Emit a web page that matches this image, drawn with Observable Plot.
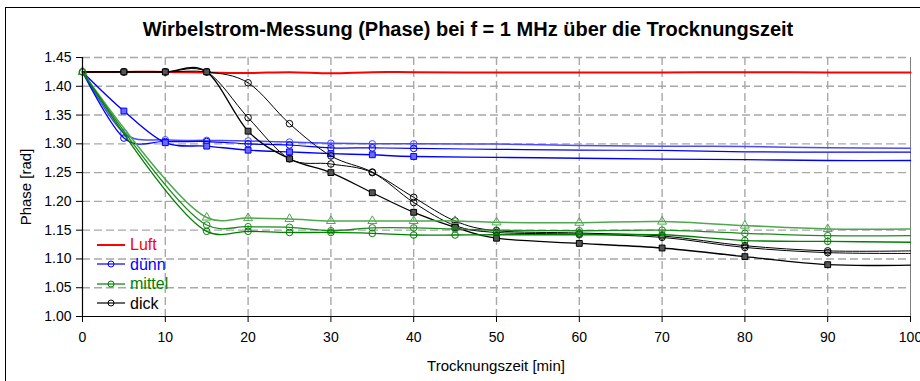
<!DOCTYPE html>
<html><head><meta charset="utf-8">
<script src="https://cdn.jsdelivr.net/npm/d3@7"></script>
<script src="https://cdn.jsdelivr.net/npm/@observablehq/plot@0.6"></script>
<style>
body{margin:0;background:#fff;font-family:"Liberation Sans",Arial,sans-serif;}
#wrap{position:relative;width:920px;height:381px;overflow:hidden;background:#fff;}
#frame{position:absolute;left:5px;top:7px;width:1000px;height:1000px;border:1px solid #000;}
#title{position:absolute;top:18px;left:0;width:936px;text-align:center;font-weight:bold;font-size:20px;line-height:22px;}
#xlab{position:absolute;top:357px;left:0;width:992px;text-align:center;font-size:15px;line-height:18px;}
#ylab{position:absolute;left:26px;top:187px;font-size:15px;line-height:18px;transform:translate(-50%,-50%) rotate(-90deg);white-space:nowrap;}
#chart{position:absolute;left:0;top:0;}
#legend{position:absolute;left:97px;top:235px;font-size:16px;}
.lr{height:19.5px;line-height:19.5px;display:flex;align-items:center;}
.lr svg{margin-right:5px;}
</style>
</head><body>
<div id="wrap">
  <div id="frame"></div>
  <div id="chart"></div>
  <div id="title">Wirbelstrom-Messung (Phase) bei f = 1 MHz über die Trocknungszeit</div>
  <div id="xlab">Trocknungszeit [min]</div>
  <div id="ylab">Phase [rad]</div>
  <div id="legend"></div>
</div>
<script>
// ---- data ----
const xTicks = [0,10,20,30,40,50,60,70,80,90,100];
const yTicks = [1.00,1.05,1.10,1.15,1.20,1.25,1.30,1.35,1.40,1.45];

const tLuft  = [0,5,10,15,20,25,30,35,40,50,60,70,80,90,100];
const luft   = [1.425,1.425,1.425,1.424,1.423,1.4245,1.4225,1.4245,1.4245,1.424,1.424,1.424,1.4245,1.424,1.424];

const tDuenn = [0,5,10,15,20,25,30,35,40,50,60,70,80,90,100];
const mDuenn = [5,10,15,20,25,30,35,40];
const duenn1 = [1.425,1.319,1.307,1.306,1.305,1.303,1.301,1.300,1.300,1.2995,1.297,1.2958,1.2955,1.293,1.2925];
const duenn2 = [1.425,1.310,1.304,1.304,1.300,1.298,1.293,1.293,1.292,1.2905,1.289,1.2885,1.286,1.2856,1.2856];
const duenn3 = [1.425,1.357,1.302,1.296,1.289,1.286,1.283,1.281,1.278,1.2765,1.275,1.2735,1.2725,1.271,1.271];

const tMittel = [0,15,20,25,30,35,40,45,50,60,70,80,90,100];
const mMittel = [0,15,20,25,30,35,40,45,50,60,70,80,90];
const mittel1 = [1.425,1.172,1.171,1.1695,1.166,1.166,1.166,1.166,1.1636,1.163,1.165,1.158,1.152,1.152];
const mittel2 = [1.425,1.159,1.156,1.155,1.149,1.154,1.154,1.152,1.150,1.149,1.150,1.1445,1.1404,1.1404];
const mittel3 = [1.425,1.148,1.148,1.146,1.146,1.1444,1.1416,1.1416,1.142,1.142,1.142,1.132,1.1305,1.129];

const tDick = [0,5,10,15,20,25,30,35,40,45,50,60,70,80,90,100];
const mDick = [5,10,15,20,25,30,35,40,45,50,60,70,80,90];
const dick1 = [1.425,1.425,1.425,1.425,1.406,1.335,1.279,1.251,1.207,1.166,1.149,1.145,1.140,1.123,1.114,1.114];
const dick2 = [1.425,1.425,1.425,1.425,1.3455,1.274,1.265,1.250,1.198,1.158,1.146,1.143,1.1375,1.120,1.111,1.1096];
const dick3 = [1.425,1.425,1.425,1.425,1.322,1.274,1.250,1.215,1.181,1.155,1.136,1.127,1.119,1.104,1.090,1.0894];

const legendNames = ["Luft","dünn","mittel","dick"];
const legendColors = ["#ff0000","#0000ff","#008000","#000000"];

// ---- build ----
const rows = (ts, vs) => ts.map((t,i)=>({t, v:vs[i]}));
const series = [
  {t:tLuft, v:luft, m:[], color:"#ff0000", w:2, curve:"cardinal"},
  {t:tDuenn, v:duenn1, m:mDuenn, color:"#4a4aff", w:1.5, sym:"circle", curve:"cardinal"},
  {t:tDuenn, v:duenn2, m:mDuenn, color:"#0000ff", w:1.2, sym:"circle", curve:"cardinal"},
  {t:tDuenn, v:duenn3, m:mDuenn, color:"#0000ff", w:1.4, sym:"square", fill:"#6a6aff", curve:"cardinal"},
  {t:tDick, v:dick1, m:mDick, color:"#000000", w:1, sym:"circle", curve:"cardinal"},
  {t:tDick, v:dick2, m:mDick, color:"#000000", w:1, sym:"circle", curve:"cardinal"},
  {t:tDick, v:dick3, m:mDick, color:"#000000", w:1.3, sym:"square", fill:"#555", curve:"cardinal"},
  {t:tMittel, v:mittel1, m:mMittel, color:"#4fa84f", w:1.5, sym:"triangle", curve:"catmull-rom"},
  {t:tMittel, v:mittel2, m:mMittel, color:"#1f8a1f", w:1.3, sym:"circle", curve:"catmull-rom"},
  {t:tMittel, v:mittel3, m:mMittel, color:"#008000", w:1.3, sym:"circle", curve:"catmull-rom"}
];

const marks = [
  Plot.ruleY(yTicks.filter(d=>d>1.0), {stroke:"#a8a8a8", strokeWidth:1.4, strokeDasharray:"8,4"}),
  Plot.ruleX(xTicks.filter(d=>d>0 && d<100), {stroke:"#a8a8a8", strokeWidth:1.4, strokeDasharray:"8,4"}),
  Plot.ruleX([100], {stroke:"#808080", strokeWidth:1}),
];
for (const s of series) {
  const r = rows(s.t, s.v);
  marks.push(Plot.line(r, {x:"t", y:"v", stroke:s.color, strokeWidth:s.w, curve:s.curve}));
  if (s.m.length) {
    marks.push(Plot.dot(r.filter(d=>s.m.includes(d.t)), {x:"t", y:"v", symbol:s.sym, r:3.3,
      stroke:s.color, strokeWidth:1, fill:s.fill || "none"}));
  }
}
marks.push(
  Plot.ruleX([0], {stroke:"#000", strokeWidth:1.2}),
  Plot.ruleY([1.0], {stroke:"#000", strokeWidth:1.2}),
  Plot.axisY(yTicks, {tickSize:6, tickPadding:5, tickFormat:d=>d.toFixed(2), label:null, fontSize:14}),
  Plot.axisX(xTicks, {tickSize:6, tickPadding:10, label:null, fontSize:14})
);

const chart = Plot.plot({
  width:920, height:381,
  marginLeft:82, marginRight:10, marginTop:57, marginBottom:65,
  x:{domain:[0,100]},
  y:{domain:[1.0,1.45]},
  style:{background:"transparent", fontFamily:"'Liberation Sans', Arial, sans-serif", fontSize:"14px", color:"#000"},
  marks
});
document.getElementById("chart").appendChild(chart);

// legend
const lg = document.getElementById("legend");
legendNames.forEach((n,i)=>{
  const row = document.createElement("div");
  row.className = "lr";
  const c = legendColors[i];
  const marker = i===0 ? "" : `<circle cx="14" cy="5" r="3" fill="none" stroke="${c}" stroke-width="1"/>`;
  row.innerHTML = `<svg width="28" height="10"><line x1="0" x2="28" y1="5" y2="5" stroke="${c}" stroke-width="${i===0?2:1.2}"/>${marker}</svg><span style="color:${c}">${n}</span>`;
  lg.appendChild(row);
});
</script>
</body></html>
